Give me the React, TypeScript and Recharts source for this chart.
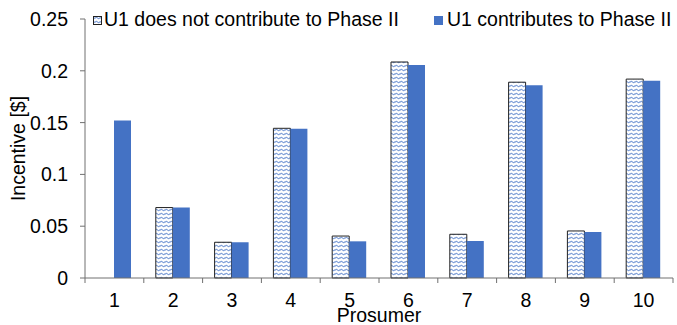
import { BarChart, Bar, XAxis, YAxis, Label } from 'recharts';

const prosumers = ['1', '2', '3', '4', '5', '6', '7', '8', '9', '10'];
const notContributing = [0, 0.068, 0.0345, 0.1445, 0.0405, 0.2085, 0.0422, 0.189, 0.0454, 0.192];
const contributing = [0.152, 0.068, 0.0345, 0.144, 0.0354, 0.2056, 0.0357, 0.186, 0.0444, 0.1905];
const yTicks = [0, 0.05, 0.1, 0.15, 0.2, 0.25];
const legendLabels = ['U1 does not contribute to Phase II', 'U1 contributes to Phase II'];

const data = prosumers.map((p, i) => ({
  name: p,
  noContrib: notContributing[i],
  contrib: contributing[i],
}));

const BLUE = '#4472C4';
const AXIS = '#707070';
const FONT = 'Arial, "Liberation Sans", sans-serif';
const FS = 19.5;

// tick label at the category centre, tick mark at the category boundaries
function ProsumerTick(props: any) {
  const { x, y, payload, index, visibleTicksCount } = props;
  const half = payload?.offset || 29.4;
  const axisY = y - 15;
  return (
    <g>
      <line x1={x - half} x2={x - half} y1={axisY} y2={axisY + 5} stroke={AXIS} />
      {index === visibleTicksCount - 1 && (
        <line x1={x + half} x2={x + half} y1={axisY} y2={axisY + 5} stroke={AXIS} />
      )}
      <text x={x} y={y} dy="0.71em" textAnchor="middle" fontSize={FS} fontFamily={FONT} fill="#000">
        {payload.value}
      </text>
    </g>
  );
}

function ChartLegend() {
  return (
    <svg width={677} height={40} style={{ position: 'absolute', left: 0, top: 0 }}>
      <rect x={93.5} y={16.5} width={8} height={8} fill="url(#wave)" stroke="#222" strokeWidth={1} />
      <text x={104} y={26} fontSize={FS} fontFamily={FONT} fill="#000">{legendLabels[0]}</text>
      <rect x={434} y={16} width={9} height={9} fill={BLUE} />
      <text x={447} y={26} fontSize={FS} fontFamily={FONT} fill="#000">{legendLabels[1]}</text>
    </svg>
  );
}

export default function App() {
  return (
    <div style={{ position: 'absolute', left: 0, top: 0, width: 677, height: 325, background: '#fff' }}>
      <BarChart
        width={677}
        height={325}
        data={data}
        margin={{ top: 19, right: 4, left: 0, bottom: 17 }}
        barGap={0}
      >
        <defs>
          <pattern id="wave" width={5} height={4} patternUnits="userSpaceOnUse">
            <rect width={5} height={4} fill="#fff" />
            <path d="M0 2.5 Q1.25 0.5 2.5 2 T5 1.5" stroke="#7F9FD8" strokeWidth={1.1} fill="none" />
          </pattern>
        </defs>
        <XAxis
          dataKey="name"
          stroke={AXIS}
          tickLine={false}
          height={30}
          tickSize={6}
          tickMargin={9}
          interval={0}
          tick={<ProsumerTick />}
        >
          <Label
            content={({ viewBox }: any) => (
              <text
                x={viewBox.x + viewBox.width / 2}
                y={322}
                textAnchor="middle"
                fontSize={FS}
                fontFamily={FONT}
                fill="#000"
              >
                Prosumer
              </text>
            )}
          />
        </XAxis>
        <YAxis
          width={85}
          domain={[0, 0.25]}
          ticks={yTicks}
          stroke={AXIS}
          tickSize={5}
          tickMargin={12}
          tick={{ fontSize: FS, fill: '#000', fontFamily: FONT }}
        >
          <Label
            content={({ viewBox }: any) => (
              <text
                x={25}
                y={viewBox.y + viewBox.height / 2}
                textAnchor="middle"
                fontSize={FS}
                fontFamily={FONT}
                fill="#000"
                transform={`rotate(-90, 25, ${viewBox.y + viewBox.height / 2})`}
              >
                Incentive [$]
              </text>
            )}
          />
        </YAxis>
        <Bar
          dataKey="noContrib"
          barSize={17}
          fill="url(#wave)"
          stroke="#222"
          strokeWidth={1}
          isAnimationActive={false}
        />
        <Bar dataKey="contrib" barSize={17} fill={BLUE} isAnimationActive={false} />
      </BarChart>
      <ChartLegend />
    </div>
  );
}
